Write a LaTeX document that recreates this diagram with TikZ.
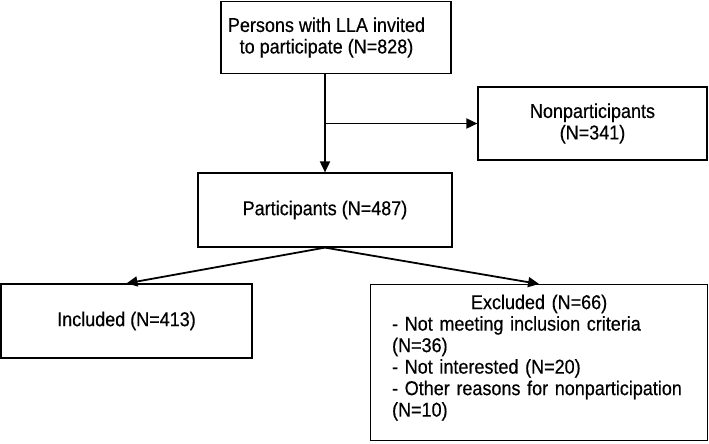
\documentclass[tikz,border=0pt]{standalone}
\usepackage{fontspec}
\setmainfont{Liberation Sans}[FakeStretch=0.9,FakeBold=0.4]
\usetikzlibrary{arrows.meta}

\tikzset{
  box/.style={draw=black,line width=1.2pt,inner sep=0pt,align=center,
    font=\fontsize{20}{21.5}\selectfont},
  flow/.style={line width=1.8pt,-{Triangle[length=11pt,width=10pt]}}
}

\begin{document}
\begin{tikzpicture}[x=1pt,y=-1pt]
\useasboundingbox (0,0) rectangle (709,444);

\node[box,minimum width=230pt,minimum height=72pt] (invited) at (336,37.5)
  {Persons with LLA invited\hspace*{19pt}\\to participate (N=828)\hspace*{19pt}};
\node[box,minimum width=229pt,minimum height=73pt] (nonpart) at (592.5,123.5)
  {Nonparticipants\\(N=341)};
\node[box,minimum width=254pt,minimum height=74pt] (part) at (325,210)
  {Participants (N=487)};
\node[box,minimum width=251pt,minimum height=74pt] (incl) at (126.5,321)
  {Included (N=413)};
\node[box,anchor=north west,text width=294pt,align=left,inner xsep=21.5pt,
  inner ysep=10pt] (excl) at (370,284)
  {\makebox[294pt]{Excluded (N=66)}\\
   - Not meeting inclusion criteria\\
   (N=36)\\
   - Not interested (N=20)\\
   - Other reasons for nonparticipation\\
   (N=10)\rule[-14pt]{0pt}{14pt}};

% branch to the nonparticipants
\coordinate (branch) at (part.north |- nonpart.west);
\draw[flow] (invited.south -| part.north) -- (part.north);
\draw[flow] (branch) -- (nonpart.west);

\draw[flow] (part.south) -- (incl.north);
\draw[flow] (part.south) -- (excl.north);

\end{tikzpicture}
\end{document}
